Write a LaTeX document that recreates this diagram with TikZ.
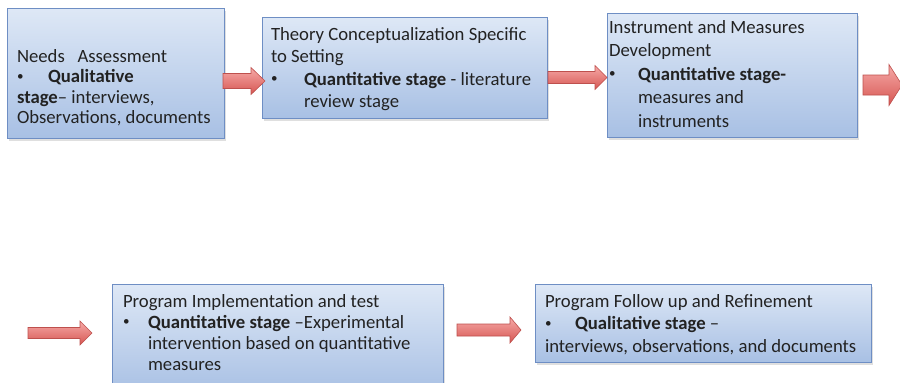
\documentclass[tikz,border=0pt]{standalone}
\usepackage{fontspec}
\usepackage{graphicx}
\setmainfont{Carlito}
\usetikzlibrary{shadows}

\definecolor{boxtop}{RGB}{222,232,246}
\definecolor{boxbot}{RGB}{168,192,228}
\definecolor{boxedge}{RGB}{110,142,196}
\definecolor{arrtop}{RGB}{246,170,168}
\definecolor{arrmid}{RGB}{236,112,108}
\definecolor{arrbot}{RGB}{214,86,82}
\definecolor{arredge}{RGB}{190,80,77}
\definecolor{inktext}{RGB}{34,34,34}

% small list bullet
\newcommand{\smallbul}{\raisebox{0.12em}{\scalebox{0.7}{•}}}

\tikzset{
  stagebox/.style={draw=boxedge, line width=0.9pt, top color=boxtop, bottom color=boxbot,
    inner sep=0pt, outer sep=0pt, anchor=north west,
    drop shadow={opacity=0.25, shadow xshift=1.5pt, shadow yshift=-2.5pt}},
  % multi-line text: base west sits on the baseline of the last line
  stagetext/.style={anchor=base west, align=left, inner sep=0pt, outer sep=0pt,
    text=inktext},
  blockarrow/.style={draw=arredge, line width=0.6pt, top color=arrtop,
    middle color=arrmid, bottom color=arrbot}
}

% block arrow: start x, shaft end x, tip x, centre y, shaft half height, head half height
\newcommand{\blockarr}[6]{%
  \path[blockarrow] (#1,#4-#5) -- (#2,#4-#5) -- (#2,#4-#6) -- (#3,#4)
    -- (#2,#4+#6) -- (#2,#4+#5) -- (#1,#4+#5) -- cycle;}

\begin{document}
\begin{tikzpicture}[x=1pt, y=-1pt]
  \clip (0,0) rectangle (900,383);
  \fill[white] (0,0) rectangle (900,383);

  % stage boxes
  \node[stagebox, minimum width=217pt, minimum height=130pt] (b1) at (7,8) {};
  \node[stagebox, minimum width=285pt, minimum height=101pt] (b2) at (262,17) {};
  \node[stagebox, minimum width=250pt, minimum height=124pt] (b3) at (607,13) {};
  \node[stagebox, minimum width=331pt, minimum height=110pt] (b4) at (112,284) {};
  \node[stagebox, minimum width=336pt, minimum height=78pt] (b5) at (535,284) {};

  % stage texts
  \node[stagetext, font=\fontsize{18.7}{20.5}\selectfont] (t1) at (17,123.5)
    {Needs\ \ \ Assessment\\
     \makebox[31pt][l]{\smallbul}\textbf{Qualitative}\\
     \textbf{stage}– interviews,\\
     Observations, documents};
  \node[stagetext, font=\fontsize{18.7}{22.5}\selectfont] (t2) at (271,107.5)
    {Theory Conceptualization Specific\\
     to Setting\\
     \makebox[33pt][l]{\smallbul}\textbf{Quantitative stage} - literature\\
     \hspace*{33pt}review stage};
  \node[stagetext, font=\fontsize{18.7}{23.5}\selectfont] (t3) at (609,127)
    {Instrument and Measures\\
     Development\\
     \makebox[29pt][l]{\smallbul}\textbf{Quantitative stage-}\\
     \hspace*{29pt}measures and\\
     \hspace*{29pt}instruments};
  \node[stagetext, font=\fontsize{18.7}{21}\selectfont] (t4) at (123,370)
    {Program Implementation and test\\
     \makebox[25pt][l]{\smallbul}\textbf{Quantitative stage} –Experimental\\
     \hspace*{25pt}intervention based on quantitative\\
     \hspace*{25pt}measures};
  \node[stagetext, font=\fontsize{18.7}{22.5}\selectfont] (t5) at (545,352)
    {Program Follow up and Refinement\\
     \makebox[30pt][l]{\smallbul}\textbf{Qualitative stage} –\\
     interviews, observations, and documents};

  % flow arrows
  \blockarr{223}{251}{265}{81}{7.5}{13.5}
  \blockarr{548}{595}{607}{77.5}{6}{12}
  \blockarr{863}{889}{902}{85}{10}{20.5}
  \blockarr{28}{80}{92}{333}{5.5}{12}
  \blockarr{457}{510}{521}{330}{6}{13}
\end{tikzpicture}
\end{document}
